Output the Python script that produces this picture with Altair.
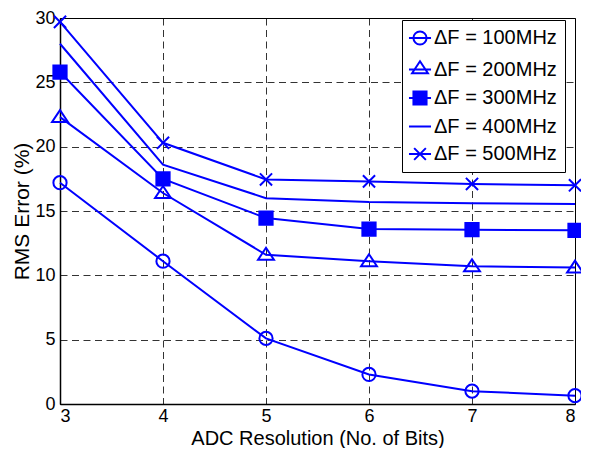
import altair as alt
import pandas as pd

bits = [3, 4, 5, 6, 7, 8]
series_names = ["ΔF = 100MHz", "ΔF = 200MHz", "ΔF = 300MHz", "ΔF = 400MHz", "ΔF = 500MHz"]
e100 = [17.2, 11.1, 5.1, 2.3, 1.0, 0.65]
e200 = [22.3, 16.4, 11.6, 11.1, 10.7, 10.6]
e300 = [25.8, 17.5, 14.45, 13.6, 13.55, 13.5]
e400 = [28.0, 18.6, 16.0, 15.7, 15.6, 15.55]
e500 = [29.7, 20.3, 17.45, 17.3, 17.1, 17.0]
x_ticks = [3, 4, 5, 6, 7, 8]
y_ticks = [0, 5, 10, 15, 20, 25, 30]

rows = []
for name, vals in zip(series_names, [e100, e200, e300, e400, e500]):
    for b, v in zip(bits, vals):
        rows.append({"bits": b, "err": v, "series": name})
df = pd.DataFrame(rows)

FONT = "Liberation Sans"
BLUE = "#0000ff"

x_enc = alt.X("bits:Q", scale=alt.Scale(domain=[3, 8], nice=False),
              axis=alt.Axis(values=x_ticks, title="ADC Resolution (No. of Bits)", format="d"))
y_enc = alt.Y("err:Q", scale=alt.Scale(domain=[0, 30], nice=False),
              axis=alt.Axis(values=y_ticks, title="RMS Error (%)", format="d"))

lines = alt.Chart(df).mark_line(color=BLUE, strokeWidth=2).encode(
    x=x_enc, y=y_enc, detail="series:N"
)

marker_series = [series_names[0], series_names[1], series_names[2], series_names[4]]
marker_shapes = [
    "circle",
    "M0,-1.05L1.2,0.75L-1.2,0.75Z",
    "square",
    "M-0.92,-0.92L0.92,0.92M-0.92,0.92L0.92,-0.92",
]
marker_fills = ["transparent", "transparent", BLUE, "transparent"]

points = alt.Chart(df).transform_filter(
    alt.FieldOneOfPredicate(field="series", oneOf=marker_series)
).mark_point(filled=False, color=BLUE, strokeWidth=2, size=175, opacity=1).encode(
    x=x_enc, y=y_enc,
    shape=alt.Shape("series:N", scale=alt.Scale(domain=marker_series, range=marker_shapes), legend=None),
    fill=alt.Fill("series:N", scale=alt.Scale(domain=marker_series, range=marker_fills), legend=None),
)

legend_shapes = [
    "M-1.6,0L1.6,0M0.95,0A0.95,0.95 0 1,1 -0.95,0A0.95,0.95 0 1,1 0.95,0",
    "M-1.6,0L1.6,0M0,-1.2L1.15,0.55L-1.15,0.55Z",
    "M-1.6,0L1.6,0M-0.95,-0.95L0.95,-0.95L0.95,0.95L-0.95,0.95Z",
    "M-1.6,0L1.6,0",
    "M-1.6,0L1.6,0M-0.85,-0.85L0.85,0.85M-0.85,0.85L0.85,-0.85",
]
legend_fills = ["transparent", "transparent", BLUE, "transparent", "transparent"]
legend_strokes = [BLUE] * 5

leg = alt.Legend(
    title=None, orient="none", legendX=342, legendY=2,
    padding=8, strokeColor="black", fillColor="white",
    labelFont=FONT, labelFontSize=20, labelColor="black",
    symbolSize=190, symbolStrokeWidth=2, symbolStrokeColor=BLUE, symbolOpacity=1,
    rowPadding=7.5, labelOffset=4,
)

legend_layer = alt.Chart(df).transform_filter(
    "datum.bits < 0"
).mark_point(filled=False, strokeWidth=2).encode(
    x=x_enc, y=y_enc,
    shape=alt.Shape("series:N", scale=alt.Scale(domain=series_names, range=legend_shapes), legend=leg),
    fill=alt.Fill("series:N", scale=alt.Scale(domain=series_names, range=legend_fills), legend=leg),
    stroke=alt.Stroke("series:N", scale=alt.Scale(domain=series_names, range=legend_strokes), legend=leg),
)

chart = alt.layer(lines, points, legend_layer).resolve_scale(
    shape="independent", fill="independent", stroke="independent"
).properties(
    width=515, height=386,
    autosize=alt.AutoSizeParams(type="none"),
    padding={"left": 52, "top": 10, "right": 6, "bottom": 44},
    background="white",
).configure_view(
    stroke="black", strokeWidth=1
).configure_axis(
    grid=True, gridColor="black", gridDash=[7, 4.5], gridWidth=1, gridOpacity=0.8,
    domainColor="black", domainWidth=1.5, ticks=False,
    labelFont=FONT, labelFontSize=18, labelColor="black",
    titleFont=FONT, titleColor="black", titleFontWeight="normal",
).configure_axisX(
    labelPadding=3, titleFontSize=20, titlePadding=3,
).configure_axisY(
    labelPadding=5, titleFontSize=21, titlePadding=2,
)

chart.save("out.html", embed_options={"renderer": "svg", "actions": False})
